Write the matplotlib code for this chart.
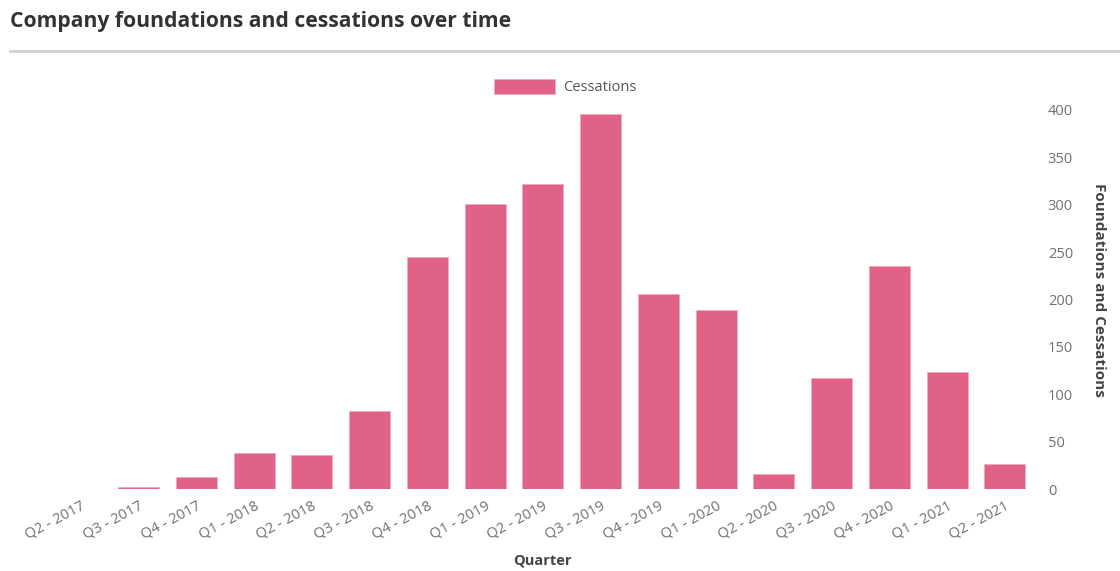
import matplotlib
matplotlib.use("Agg")
import matplotlib.pyplot as plt
import numpy as np

quarters = ["Q2 - 2017", "Q3 - 2017", "Q4 - 2017", "Q1 - 2018", "Q2 - 2018", "Q3 - 2018",
            "Q4 - 2018", "Q1 - 2019", "Q2 - 2019", "Q3 - 2019", "Q4 - 2019", "Q1 - 2020",
            "Q2 - 2020", "Q3 - 2020", "Q4 - 2020", "Q1 - 2021", "Q2 - 2021"]
cessations = [0, 2, 13, 38, 36, 82, 245, 301, 322, 396, 206, 189, 16, 117, 235, 124, 26]
y_ticks = [0, 50, 100, 150, 200, 250, 300, 350, 400]

plt.rcParams['font.family'] = ['Open Sans', 'DejaVu Sans']

bar_color = "#E06287"
tick_color = "#707070"

fig = plt.figure(figsize=(11.2, 5.71), dpi=100)
ax = fig.add_axes([0.0463, 0.1436, 0.8768, 0.697])

x = np.arange(len(quarters))
ax.bar(x, cessations, width=0.71, color=bar_color, edgecolor="#F1A9BF", linewidth=0.6,
       label="Cessations")

ax.set_xlim(-0.5, len(quarters) - 0.5)
ax.set_ylim(0, 420)
ax.yaxis.tick_right()
ax.yaxis.set_label_position("right")
ax.set_yticks(y_ticks)
ax.set_yticklabels([str(v) for v in y_ticks])
ax.set_xticks(x)
ax.set_xticklabels(quarters, rotation=28, ha="right", rotation_mode="anchor")
ax.tick_params(axis="both", length=0, colors=tick_color, labelsize=10.5)
ax.tick_params(axis="y", pad=10)
ax.tick_params(axis="x", pad=7)
for s in ax.spines.values():
    s.set_visible(False)

ax.set_xlabel("Quarter", fontsize=10.5, fontweight="bold", color="#444444", labelpad=8)
ax.set_ylabel("Foundations and Cessations", fontsize=11, fontweight="bold", color="#444444",
              rotation=270, labelpad=24)

ax.legend(loc="center", bbox_to_anchor=(0.5226, 1.01), frameon=False, fontsize=10.5,
          handlelength=4.2, handleheight=1.2, handletextpad=0.5, labelcolor="#555555")

fig.text(0.009, 0.962, "Company foundations and cessations over time", fontsize=15.2,
         fontweight="bold", color="#333333", va="center", ha="left")
fig.add_artist(plt.Line2D([0.009, 1.0], [0.91, 0.91], color="#D0D0D0", linewidth=2,
                          transform=fig.transFigure))

fig.savefig("out.png", dpi=100, facecolor="white")
